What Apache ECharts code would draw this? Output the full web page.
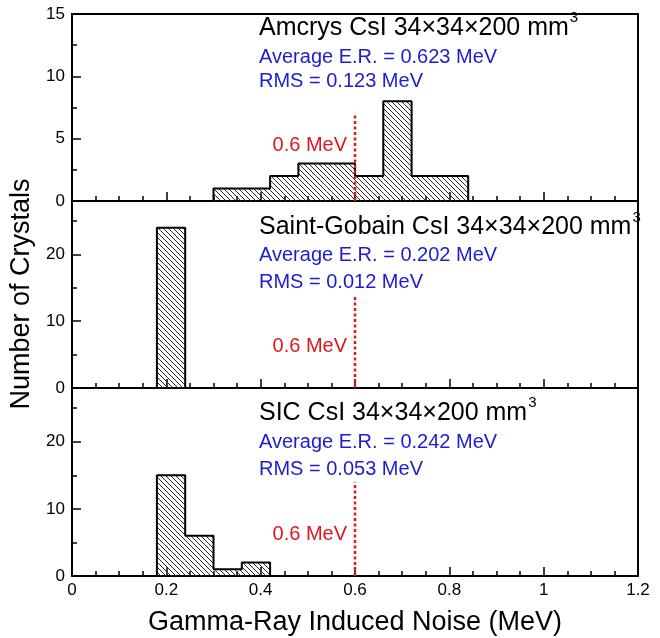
<!DOCTYPE html>
<html>
<head>
<meta charset="utf-8">
<script src="https://cdn.jsdelivr.net/npm/echarts@6/dist/echarts.min.js"></script>
<style>
  html, body { margin: 0; padding: 0; background: #fff; }
  #chart { width: 660px; height: 638px; }
</style>
</head>
<body>
<div id="chart"></div>
<script>
// histogram bins are 0.06 MeV wide: lower edges + counts for each sample
const binWidth = 0.06;
const amcrysEdges = [0.30, 0.36, 0.42, 0.48, 0.54, 0.60, 0.66, 0.72, 0.78];
const amcrysCounts = [1, 1, 2, 3, 3, 2, 8, 2, 2];
const gobainEdges = [0.18];
const gobainCounts = [24];
const sicEdges = [0.18, 0.24, 0.30, 0.36];
const sicCounts = [15, 6, 1, 2];

// 0.6 MeV reference line and how high it is drawn in each panel
const refEnergy = 0.6;
const refTops = [7, 14, 14];

// axis ranges / ticks
const xRange = [0, 1.2], xStep = 0.2;
const yMax = [15, 28, 28];
const yStep = [5, 10, 10];

const panelTitles = ['Amcrys CsI 34×34×200 mm', 'Saint-Gobain CsI 34×34×200 mm', 'SIC CsI 34×34×200 mm'];
const avgER = ['0.623', '0.202', '0.242'];
const rmsER = ['0.123', '0.012', '0.053'];

const FONT = '"Liberation Sans", Arial, Helvetica, sans-serif';
const BLUE = '#1c1cd2';
const RED = '#e0161e';

// layout of the 3 stacked panels
const plotLeft = 72, plotRight = 638;
const panelTops = [14, 201, 388];
const panelHeights = [187, 187, 188];
const titleY = [28, 227.5, 413];
const avgY = [57, 255.3, 442.5];
const rmsY = [81, 282, 469];
const refLabelY = [145, 346.7, 534];

// diagonal hatch pattern (\\\)
const tile = document.createElement('canvas');
tile.width = tile.height = 5;
const tctx = tile.getContext('2d');
tctx.strokeStyle = '#2a2a2a';
tctx.lineWidth = 1;
for (let i = -5; i <= 5; i += 5) {
  tctx.beginPath();
  tctx.moveTo(i, 0);
  tctx.lineTo(i + 5, 5);
  tctx.stroke();
}
const hatch = { image: tile, repeat: 'repeat' };

function binData(edges, counts) {
  return edges.map((e, i) => [e, e + binWidth, counts[i]]);
}

// step outline like a ROOT histogram (only verticals where the height changes)
function outline(edges, counts) {
  const pts = [[edges[0], 0]];
  edges.forEach((e, i) => {
    pts.push([e, counts[i]], [e + binWidth, counts[i]]);
  });
  pts.push([edges[edges.length - 1] + binWidth, 0]);
  return pts;
}

function renderBin(params, api) {
  const p0 = api.coord([api.value(0), api.value(2)]);
  const p1 = api.coord([api.value(1), 0]);
  return {
    type: 'rect',
    shape: { x: p0[0], y: p0[1], width: p1[0] - p0[0], height: p1[1] - p0[1] },
    style: { fill: hatch },
    silent: true
  };
}

const tickLine = { color: '#000', width: 1.5 };

function xAxisFor(i) {
  return {
    type: 'value', gridIndex: i, min: xRange[0], max: xRange[1], interval: xStep,
    axisLine: { show: true, onZero: false, lineStyle: { color: '#000', width: 2 } },
    axisTick: { show: true, inside: true, length: 9, lineStyle: tickLine },
    minorTick: { show: true, splitNumber: 4, length: 5, lineStyle: tickLine },
    splitLine: { show: false },
    axisLabel: { show: i === 2, color: '#000', fontSize: 17, fontFamily: FONT, margin: 6 }
  };
}

const yAxes = [];
const yIndex = [];
yMax.forEach((max, i) => {
  yIndex.push(yAxes.length);
  yAxes.push({
    type: 'value', gridIndex: i, position: 'left', min: 0, max: max, interval: yStep[i],
    axisLine: { show: true, lineStyle: { color: '#000', width: 2 } },
    axisTick: { show: true, inside: true, length: 9, lineStyle: tickLine },
    minorTick: { show: i === 0, splitNumber: 2, length: 5, lineStyle: tickLine },
    splitLine: { show: false },
    axisLabel: { color: '#000', fontSize: 17, fontFamily: FONT, margin: 7, showMaxLabel: i === 0 }
  });
  if (i > 0) {
    // second axis only for the half-step minor ticks (5, 15, 25)
    yAxes.push({
      type: 'value', gridIndex: i, position: 'left', offset: 0, min: 0, max: max, interval: yStep[i] / 2,
      axisLine: { show: false },
      axisTick: { show: true, inside: true, length: 5, lineStyle: tickLine },
      splitLine: { show: false },
      axisLabel: { show: false }
    });
  }
});

const panels = [
  [amcrysEdges, amcrysCounts],
  [gobainEdges, gobainCounts],
  [sicEdges, sicCounts]
];

const series = [];
panels.forEach(([edges, counts], i) => {
  series.push({
    type: 'custom', xAxisIndex: i, yAxisIndex: yIndex[i],
    renderItem: renderBin, data: binData(edges, counts), z: 2
  });
  series.push({
    type: 'line', xAxisIndex: i, yAxisIndex: yIndex[i],
    data: outline(edges, counts), symbol: 'none', clip: false,
    lineStyle: { color: '#000', width: 2 }, z: 3
  });
  series.push({
    type: 'line', xAxisIndex: i, yAxisIndex: yIndex[i],
    data: [[refEnergy, 0], [refEnergy, refTops[i]]], symbol: 'none',
    lineStyle: { color: RED, width: 2.5, type: [3, 2.5] }, z: 4
  });
});

// measure title width so the superscript 3 sits right after "mm"
const mctx = document.createElement('canvas').getContext('2d');
const titleSize = 25;
mctx.font = titleSize + 'px ' + FONT;

const titleX = 259;
const graphics = [];
panelTitles.forEach((t, i) => {
  const w = mctx.measureText(t).width;
  graphics.push(
    { type: 'text', x: titleX, y: titleY[i], style: { text: t, fontSize: titleSize, fontFamily: FONT, fill: '#000', align: 'left', verticalAlign: 'middle' } },
    { type: 'text', x: titleX + w + 1, y: titleY[i] - 10, style: { text: '3', fontSize: 15, fontFamily: FONT, fill: '#000', align: 'left', verticalAlign: 'middle' } },
    { type: 'text', x: titleX, y: avgY[i], style: { text: 'Average E.R. = ' + avgER[i] + ' MeV', fontSize: 20, fontFamily: FONT, fill: BLUE, align: 'left', verticalAlign: 'middle' } },
    { type: 'text', x: titleX, y: rmsY[i], style: { text: 'RMS = ' + rmsER[i] + ' MeV', fontSize: 20, fontFamily: FONT, fill: BLUE, align: 'left', verticalAlign: 'middle' } },
    { type: 'text', x: 347, y: refLabelY[i], style: { text: '0.6 MeV', fontSize: 20, fontFamily: FONT, fill: RED, align: 'right', verticalAlign: 'middle' } }
  );
});
graphics.push(
  { type: 'text', x: 22, y: 294, rotation: Math.PI / 2, style: { text: 'Number of Crystals', fontSize: 27, fontFamily: FONT, fill: '#000', align: 'center', verticalAlign: 'middle' } },
  { type: 'text', x: (plotLeft + plotRight) / 2, y: 623, style: { text: 'Gamma-Ray Induced Noise (MeV)', fontSize: 27, fontFamily: FONT, fill: '#000', align: 'center', verticalAlign: 'middle' } }
);

const chart = echarts.init(document.getElementById('chart'), null, { renderer: 'canvas' });
chart.setOption({
  animation: false,
  backgroundColor: '#fff',
  grid: panelTops.map((top, i) => ({
    left: plotLeft, width: plotRight - plotLeft, top: top, height: panelHeights[i],
    show: true, borderColor: '#000', borderWidth: 2, containLabel: false
  })),
  xAxis: [0, 1, 2].map(xAxisFor),
  yAxis: yAxes,
  series: series,
  graphic: graphics
});
</script>
</body>
</html>
